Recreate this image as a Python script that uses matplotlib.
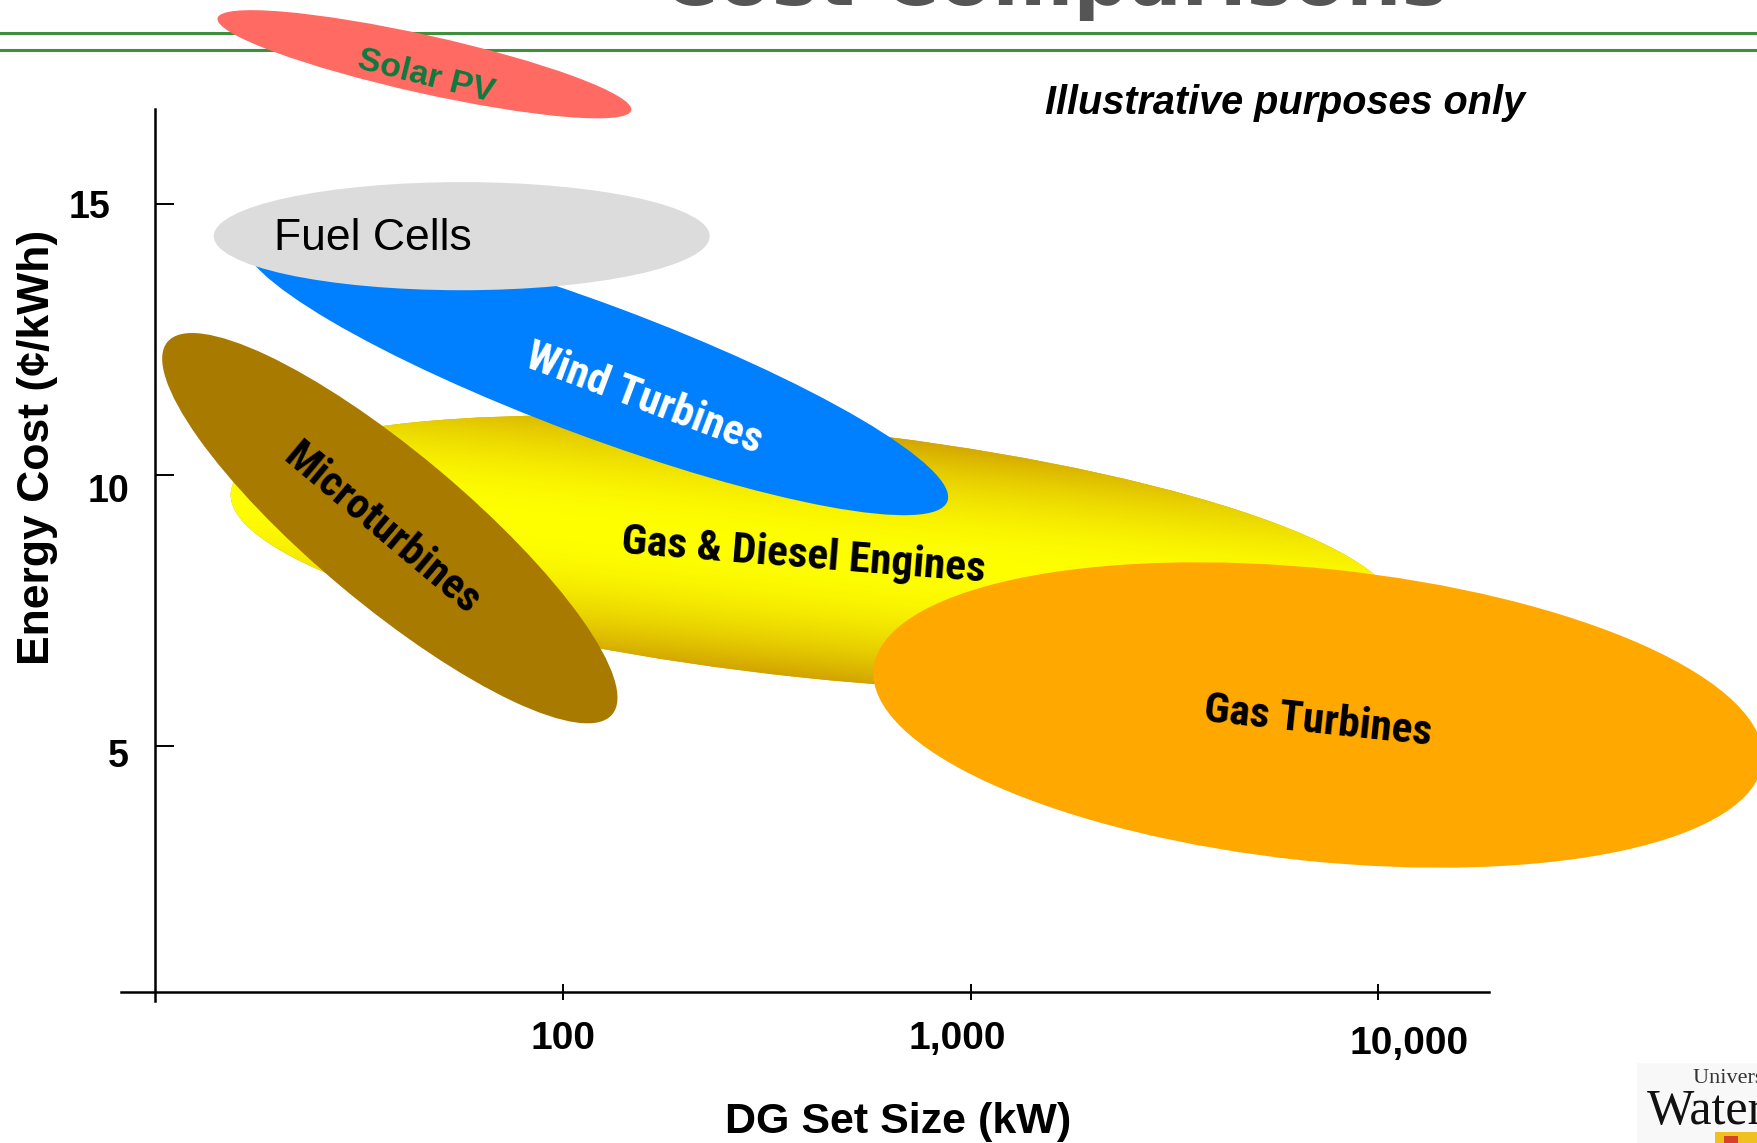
import os
import numpy as np
import matplotlib
matplotlib.use("Agg")
import matplotlib.pyplot as plt
from matplotlib.patches import Ellipse, Rectangle
from matplotlib.lines import Line2D
from matplotlib.ticker import NullLocator
from matplotlib.transforms import IdentityTransform, ScaledTranslation
from matplotlib.colors import to_rgb
from matplotlib import font_manager as fm

# technologies, listed from the bottom layer up
techs = ["Gas & Diesel Engines", "Wind Turbines", "Fuel Cells",
         "Microturbines", "Gas Turbines", "Solar PV"]
# ends of each band's long axis: set size (kW) and energy cost (cents/kWh)
size_lo = [15.3, 16.5, 13.9, 10.7, 578, 14.2]
cost_lo = [9.69, 14.36, 14.41, 12.46, 6.44, 18.43]
size_hi = [11200, 877, 229, 132, 87800, 147]
cost_hi = [7.42, 9.52, 14.41, 5.59, 4.72, 16.73]
# band thickness relative to its length
aspect = [0.212, 0.176, 0.218, 0.262, 0.327, 0.137]

# where each name is written
label_size = [390, 159, 19.5, 36.6, 7120, 46.4]
label_cost = [8.60, 11.48, 14.15, 9.08, 5.54, 17.42]
label_rot = [-4.5, -20.5, 0, -40, -6, -14]

yticks = [5, 10, 15]
xticks = [100, 1000, 10000]
xticklabels = ["100", "1,000", "10,000"]

fills = ["#d4a800", "#0080ff", "#dcdcdc", "#a97a00", "#ffa800", "#ff6a62"]
text_colors = ["black", "white", "black", "black", "black", "#0b7a3e"]
# printed length (px) of the condensed band names
label_width = {"Gas & Diesel Engines": 376, "Wind Turbines": 245,
               "Microturbines": 238, "Gas Turbines": 228}

SANS = "Liberation Sans"


def condensed_bold():
    """Pick a narrow/condensed bold sans face if one is installed."""
    order = ["liberation", "arial", "roboto", "open sans", "noto sans", "dejavu"]
    found = []
    for f in fm.fontManager.ttflist:
        nm = f.name.lower()
        fn = os.path.basename(f.fname).lower()
        w = f.weight if isinstance(f.weight, (int, float)) else (700 if "bold" in str(f.weight) else 400)
        if f.style != "normal" or w < 600 or w > 800:
            continue
        if "mono" in nm or ("serif" in nm and "sans" not in nm):
            continue
        if any(k in fn for k in ("extra", "ultra", "semi")):
            continue
        if "narrow" in nm or "condensed" in nm or "narrow" in fn or "condensed" in fn \
                or str(f.stretch) == "condensed":
            rank = next((j for j, k in enumerate(order) if k in nm), len(order))
            found.append((rank, f.fname))
    if found:
        return fm.FontProperties(fname=sorted(found)[0][1])
    return fm.FontProperties(family=SANS, weight="bold")


NARROW_FP = condensed_bold()

W, H = 1758, 1143
fig = plt.figure(figsize=(W / 100, H / 100), dpi=100)
ax = fig.add_axes([121 / W, 1 - 1001 / H, 1368 / W, 892 / H])
ax.set_xscale("log")
ax.set_xlim(8.23, 18700)
ax.set_ylim(0.306, 16.755)
ax.set_autoscale_on(False)
ax.patch.set_visible(False)

for s in ("top", "right"):
    ax.spines[s].set_visible(False)
ax.spines["left"].set_position(("data", 10))
ax.spines["bottom"].set_position(("data", 0.472))
for s in ("left", "bottom"):
    ax.spines[s].set_linewidth(1.8)

ax.xaxis.set_minor_locator(NullLocator())
ax.set_xticks(xticks, xticklabels, fontweight="bold", family=SANS)
ax.set_yticks(yticks, [str(v) for v in yticks], fontweight="bold", family=SANS)
ax.tick_params(axis="x", direction="inout", length=11, width=1.4, pad=15.5, labelsize=28)
ax.tick_params(axis="y", direction="in", length=14, width=1.4, pad=19, labelsize=27)

ax.set_xlabel("DG Set Size (kW)", fontsize=31, fontweight="bold", family=SANS)
ax.xaxis.set_label_coords(0.568, -0.113)
ax.set_ylabel("Energy Cost (\u00a2/kWh)", fontsize=32, fontweight="bold", family=SANS)
ax.yaxis.set_label_coords(-0.046, 0.621)

# slide header rules
for yy in (1 - 32.5 / H, 1 - 49.5 / H):
    ax.add_line(Line2D([0, 1], [yy, yy], transform=fig.transFigure, color="#3f8f3c",
                       lw=2.2, clip_on=False, zorder=1))

# the bands
to_px = ax.transData.transform
bands = []
for i, name in enumerate(techs):
    p0 = to_px((size_lo[i], cost_lo[i]))
    p1 = to_px((size_hi[i], cost_hi[i]))
    c = (p0 + p1) / 2
    d = p1 - p0
    length = np.hypot(d[0], d[1])
    ang = np.degrees(np.arctan2(d[1], d[0]))
    e = Ellipse(c, length, length * aspect[i], angle=ang, transform=IdentityTransform(),
                facecolor=fills[i], edgecolor="none", clip_on=False, zorder=2 + i)
    ax.add_patch(e)
    bands.append((c, length / 2, length * aspect[i] / 2, np.radians(ang), e))

# yellow sheen across the engines band
(cx, cy), a, b, th, e0 = bands[0]
nx, ny = 700, 220
xs = np.linspace(cx - a, cx + a, nx)
ys = np.linspace(cy - a * 0.35, cy + a * 0.35, ny)
X, Y = np.meshgrid(xs, ys)
v = -(X - cx) * np.sin(th) + (Y - cy) * np.cos(th)
t = np.clip(np.abs(v) / b, 0, 1) ** 2.0
mid = np.array(to_rgb("#ffff00"))
edge = np.array(to_rgb("#d2a400"))
rgb = mid[None, None, :] * (1 - t[..., None]) + edge[None, None, :] * t[..., None]
im = ax.imshow(rgb, extent=(xs[0], xs[-1], ys[0], ys[-1]), origin="lower",
               transform=IdentityTransform(), interpolation="bilinear",
               aspect="auto", zorder=2.1)
im.set_clip_path(e0)
ax.set_xlim(8.23, 18700)
ax.set_ylim(0.306, 16.755)

# common size for the condensed names, fitted to their printed length
renderer = fig.canvas.get_renderer()
probes = [fig.text(0, 0, n, fontproperties=NARROW_FP, fontsize=31.5) for n in label_width]
measured = sum(p.get_window_extent(renderer).width for p in probes)
for p in probes:
    p.remove()
narrow_size = 31.5 * sum(label_width.values()) / measured

# names on the bands
for i, name in enumerate(techs):
    kw = dict(rotation=label_rot[i], rotation_mode="anchor", color=text_colors[i],
              zorder=20, ha="center", va="center_baseline")
    if name == "Fuel Cells":
        kw.update(ha="left", va="baseline", fontsize=32, family=SANS)
    elif name == "Solar PV":
        kw.update(fontsize=24.5, fontweight="bold", family=SANS)
    else:
        kw.update(fontproperties=NARROW_FP, fontsize=narrow_size)
    ax.text(label_size[i], label_cost[i], name, **kw)

fig.text(661 / W, 1 - 5 / H, "Cost Comparisons", fontsize=56, fontweight="bold",
         color="#555555", family="DejaVu Sans", ha="left", va="baseline")
fig.text(1045 / W, 1 - 114 / H, "Illustrative purposes only", fontsize=28.5,
         fontweight="bold", style="italic", family=SANS, ha="left", va="baseline")

# corner logo
fig.patches.append(Rectangle((1637 / W, 0), 1 - 1637 / W, 80 / H, transform=fig.transFigure,
                             facecolor="#f8f8f8", edgecolor="none", zorder=0))
fig.patches.append(Rectangle((1715 / W, 0), 43 / W, 11 / H, transform=fig.transFigure,
                             facecolor="#f0c020", edgecolor="none", zorder=1))
fig.patches.append(Rectangle((1724 / W, 0), 14 / W, 7 / H, transform=fig.transFigure,
                             facecolor="#d8402a", edgecolor="none", zorder=1))
fig.text(1693 / W, 1 - 1083 / H, "University of", fontsize=16, family="Liberation Serif",
         color="#333333", ha="left", va="baseline")
fig.text(1647 / W, 1 - 1124 / H, "Waterloo", fontsize=36, family="Liberation Serif",
         color="#111111", ha="left", va="baseline")

fig.canvas.draw()
# nudge a few tick labels
x_shift = [(0, 0), (-13, 0), (31, -5)]
for lab, (dx, dy) in zip(ax.get_xticklabels(), x_shift):
    lab.set_transform(lab.get_transform() + ScaledTranslation(dx / 100, dy / 100, fig.dpi_scale_trans))
y_shift = {"15": (-19, 0), "10": (0, -13), "5": (0, -7)}
for lab in ax.get_yticklabels():
    dx, dy = y_shift.get(lab.get_text(), (0, 0))
    lab.set_transform(lab.get_transform() + ScaledTranslation(dx / 100, dy / 100, fig.dpi_scale_trans))

fig.savefig("out.png", dpi=100)
